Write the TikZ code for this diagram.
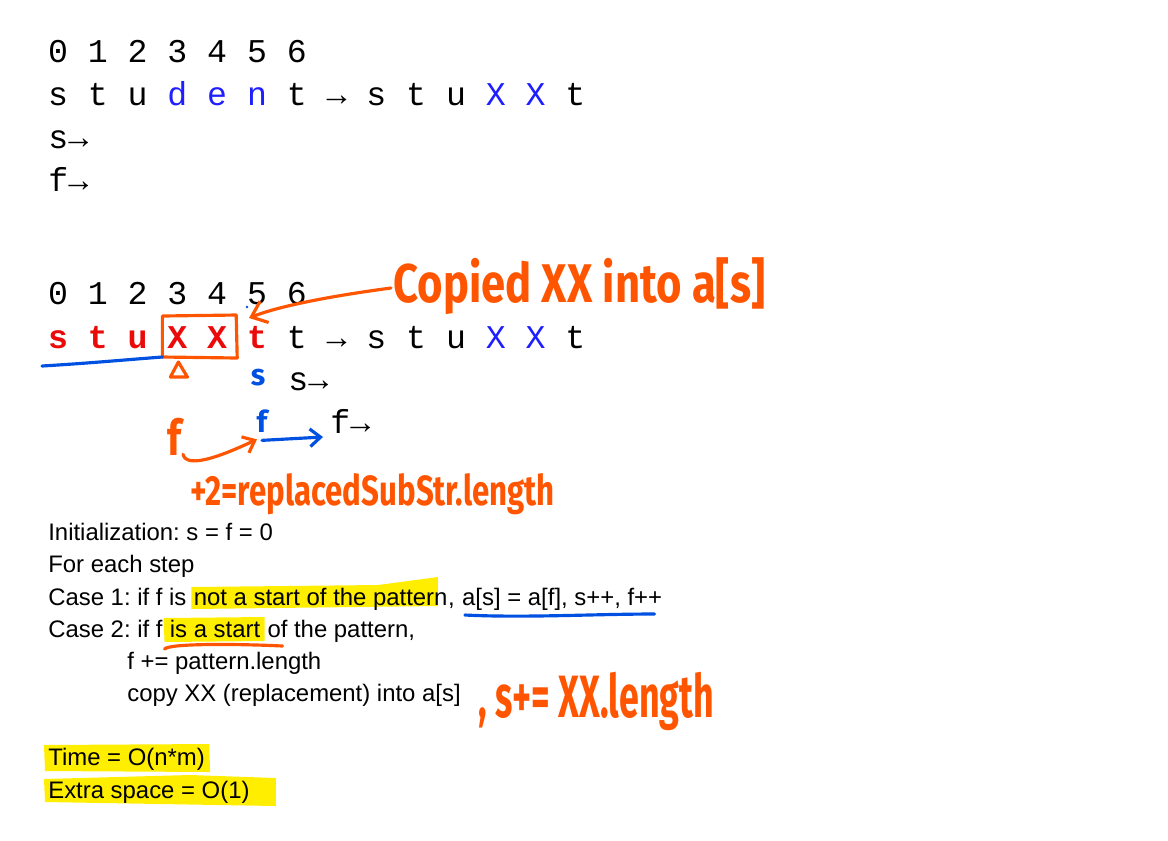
\documentclass[tikz,border=0pt]{standalone}
\usepackage{fontspec}
\setmainfont{Liberation Sans}
\newfontfamily\codefont{Liberation Mono}
\newfontfamily\handfont{Fira Sans}
\usepackage{graphicx}
\usepackage{tikz}
\usetikzlibrary{positioning,arrows.meta,backgrounds}
\usepackage{xcolor}
\frenchspacing

\definecolor{penorange}{RGB}{255,85,0}
\definecolor{penblue}{RGB}{0,80,225}
\definecolor{txtblue}{RGB}{30,30,255}
\definecolor{txtred}{RGB}{235,10,10}
\definecolor{marker}{RGB}{255,238,0}

\tikzset{
	code/.style={font=\codefont\fontsize{18.9}{20}\selectfont, inner sep=0pt, anchor=base},
	redcode/.style={code, text=txtred, font=\codefont\bfseries\fontsize{18.9}{20}\selectfont},
	plain/.style={font=\fontsize{13.6}{16}\selectfont, inner sep=0pt, anchor=base west},
	hand/.style={text=penorange, font=\handfont\bfseries, inner sep=0pt},
	pen/.style={line width=1.8pt, line cap=round, line join=round},
}

\begin{document}
\begin{tikzpicture}[x=0.02cm, y=-0.02cm]
		
		\useasboundingbox (0,0) rectangle (1168,840);
		
		% before
		\foreach \d in {0,...,6}
		\node[code] (ta\d) at ({58+39.8*\d},62) {\d};
		\foreach \c/\col [count=\i from 0] in {s/black,t/black,u/black,d/txtblue,e/txtblue,n/txtblue,t/black,→/black,s/black,t/black,u/black,X/txtblue,X/txtblue,t/black}
		\node[code, text=\col] (tb\i) at ({58+39.8*\i},105) {\c};
		\node[code, anchor=base west] (sa) at (48,148) {s→};
		\node[code, anchor=base west] (fa) at (48,191) {f→};
		
		% after copying
		\foreach \d in {0,...,6}
		\node[code] (na\d) at ({58+39.8*\d},304) {\d};
		\foreach \c [count=\i from 0] in {s,t,u,X,X,t}
		\node[redcode] (r\i) at ({58+39.8*\i},348) {\c};
		\foreach \c/\col [count=\i from 6] in {t/black,→/black,s/black,t/black,u/black,X/txtblue,X/txtblue,t/black}
		\node[code, text=\col] (r\i) at ({58+39.8*\i},348) {\c};
		\node[code, anchor=base west] (sb) at (288,390) {s→};
		\node[code, anchor=base west] (fb) at (330,433) {f→};
		
		\node[hand, text=penblue, font=\handfont\bfseries\fontsize{17}{17}\selectfont, anchor=base] (blues) at (258,385) {s};
		\node[hand, text=penblue, font=\handfont\bfseries\fontsize{17}{17}\selectfont, anchor=base] (bluef) at (262,432) {f};
		\node[hand, font=\handfont\bfseries\fontsize{28}{28}\selectfont, anchor=base] (orangef) at (175,455) {\scalebox{0.8}[1]{f}};
		
		\draw[pen, penorange] ([shift={(-15,9)}]r3.base) -- ([shift={(-15,-32)}]r3.base)
		-- ([shift={(19,-33)}]r4.base) -- ([shift={(20,10)}]r4.base) -- cycle;
		\draw[pen, penorange] ([shift={(-7,29)}]r3.base) -- ([shift={(1,14)}]r3.base)
		-- ([shift={(10,29)}]r3.base) -- cycle;
		\draw[pen, penblue] ([shift={(-16,18)}]r0.base) .. controls +(50,-3) and +(-40,3) .. ([shift={(-15,9)}]r3.base);
		\fill[penblue] ([shift={(-10,3)}]na5.base) circle (1.3);
		
		\node[hand, font=\handfont\bfseries\fontsize{31}{31}\selectfont, anchor=base west] (copied) at (393,302) {\scalebox{0.8}[1]{Copied XX into a[s]}};
		\coordinate (tip) at ([shift={(-8,14)}]na5.base);
		\draw[pen, penorange, -{Straight Barb[length=8pt,width=13pt]}] ([shift={(-2,-14)}]copied.base west) .. controls +(-60,8) and +(30,-12) .. (tip);
		
		\draw[pen, penblue, -{Straight Barb[length=6pt,width=10pt]}] ([shift={(0,8)}]bluef.south) -- ([shift={(-7,4)}]fb.base west);
		\draw[pen, penorange, -{Straight Barb[length=6pt,width=10pt]}] ([shift={(8,-1)}]orangef.south) .. controls +(4,16) and +(-30,14) .. ([shift={(-5,7)}]bluef.south);
		
		\node[hand, font=\handfont\bfseries\fontsize{24}{24}\selectfont, anchor=base west] (plus) at (190,505) {\scalebox{0.74}[1]{+2=replacedSubStr.length}};
		
		% the steps
		\node[plain] (init) at (48,540) {Initialization: s = f = 0};
		\node[plain] (each) at (48,572) {For each step};
		\node[plain] (c1a) at (48,605) {Case 1: if f is\ \null};
		\node[plain] (c1b) at (c1a.base east) {not a start of the pattern};
		\node[plain] (c1c) at (c1b.base east) {,\ \null};
		\node[plain] (c1d) at (c1c.base east) {a[s] = a[f], s++, f++};
		\node[plain] (c2a) at (48,637) {Case 2: if f\ \null};
		\node[plain] (c2b) at (c2a.base east) {is a start};
		\node[plain] (c2c) at (c2b.base east) {\ of the pattern,};
		\node[plain] (inc) at (127,669) {f += pattern.length};
		\node[plain] (copy) at (127,701) {copy XX (replacement) into a[s]};
		\node[plain] (time) at (48,765) {Time = O(n*m)};
		\node[plain] (space) at (48,798) {Extra space = O(1)};
		
		\node[hand, font=\handfont\bfseries\fontsize{34}{34}\selectfont, anchor=base west] (sinc) at (478,717) {\scalebox{0.6}[1]{, s+= XX.length}};
		
		\begin{scope}[on background layer]
			\fill[marker] ([shift={(-2,-18)}]c1b.base west) -- ([shift={(-70,-20)}]c1b.base east)
			-- ([shift={(-10,-28)}]c1b.base east) -- ([shift={(-10,1)}]c1b.base east)
			-- ([shift={(-2,4)}]c1b.base west) -- cycle;
			\fill[marker] ([shift={(-6,-19)}]c2b.base west) -- ([shift={(4,-20)}]c2b.base east)
			-- ([shift={(4,4)}]c2b.base east) -- ([shift={(-5,5)}]c2b.base west) -- cycle;
			\fill[marker] ([shift={(-4,-20)}]time.base west) -- ([shift={(4,-21)}]time.base east)
			-- ([shift={(5,7)}]time.base east) -- ([shift={(-3,6)}]time.base west) -- cycle;
			\fill[marker] ([shift={(-4,-19)}]space.base west) -- ([shift={(-60,-23)}]space.base east)
			-- ([shift={(26,-20)}]space.base east) -- ([shift={(26,8)}]space.base east)
			-- ([shift={(-3,4)}]space.base west) -- cycle;
		\end{scope}
		
		\draw[pen, penblue] ([shift={(3,10)}]c1d.base west) .. controls +(60,3) and +(-60,0) .. ([shift={(-8,9)}]c1d.base east);
		\draw[pen, penorange] ([shift={(-5,12)}]c2b.base west) .. controls +(5,-6) and +(-40,-2) .. ([shift={(22,9)}]c2b.base east);
		
	\end{tikzpicture}
\end{document}
